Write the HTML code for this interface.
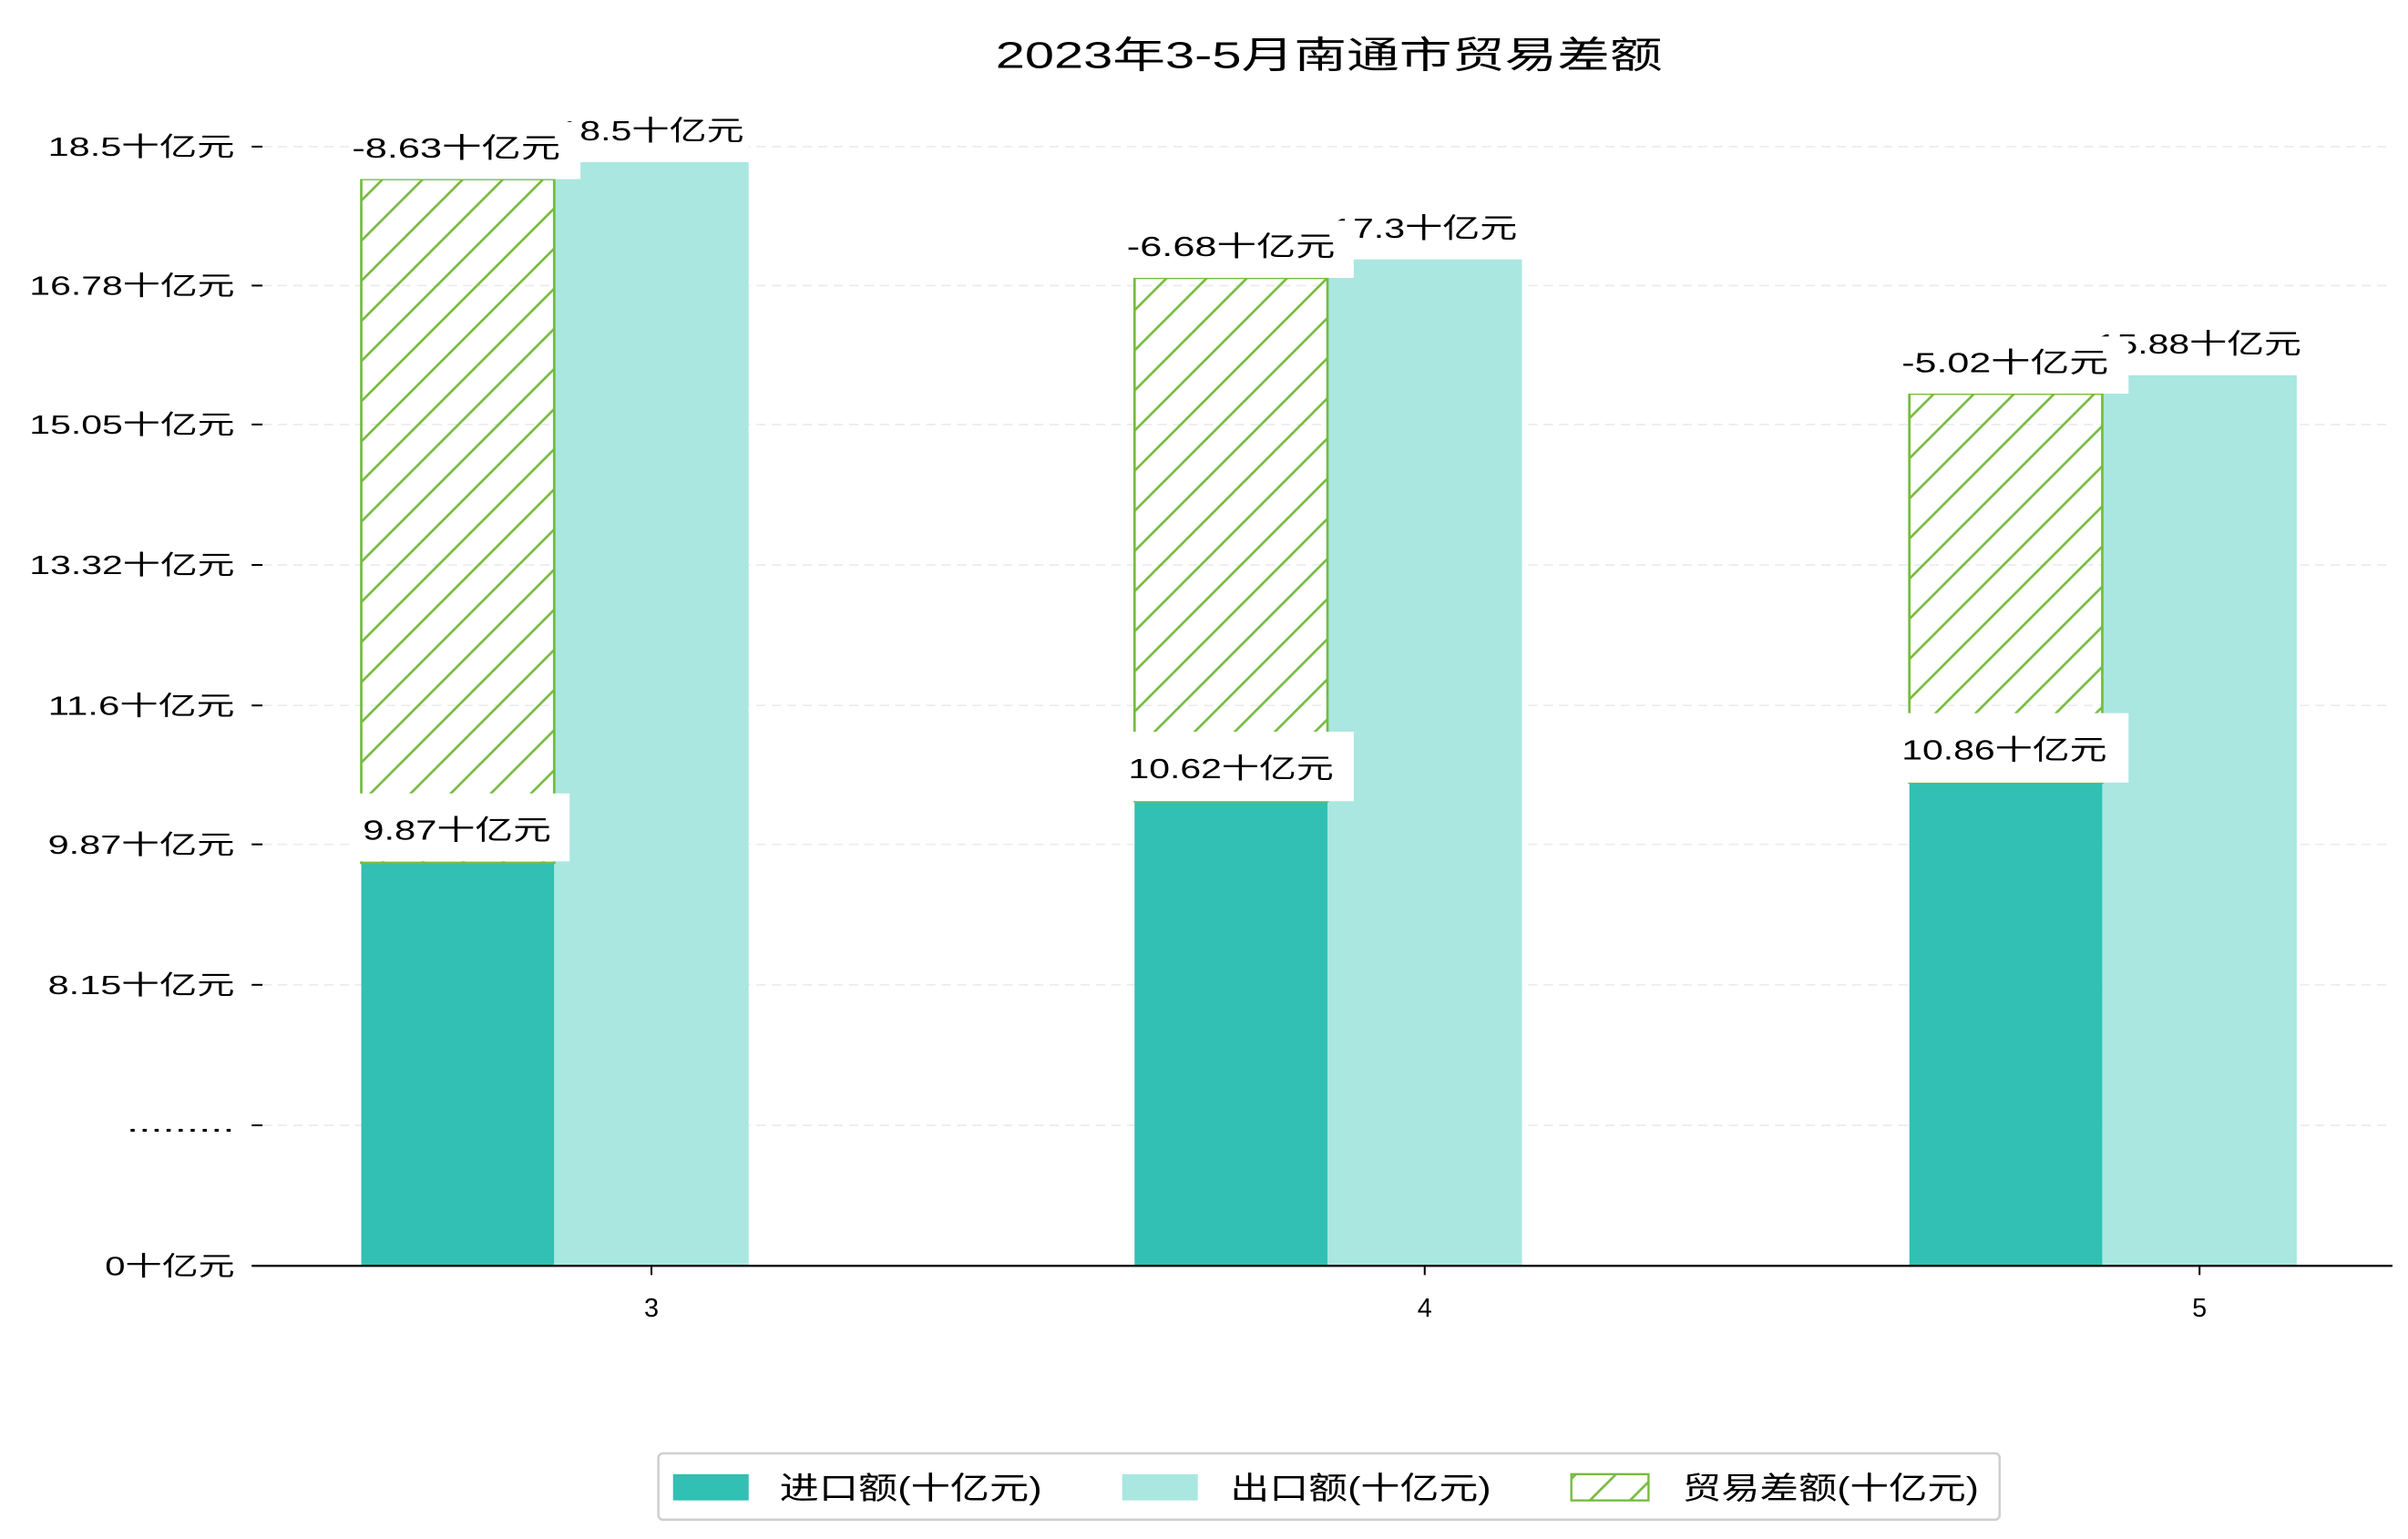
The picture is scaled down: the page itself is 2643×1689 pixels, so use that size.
<!DOCTYPE html>
<html><head><meta charset="utf-8"><style>
html,body{margin:0;padding:0;background:#fff;}
svg{display:block;}
text{font-family:"Liberation Sans","Noto Sans CJK SC","WenQuanYi Zen Hei",sans-serif;fill:#000;}
</style></head><body>
<svg width="2643" height="1689" viewBox="0 0 1560 997" xmlns="http://www.w3.org/2000/svg">
<defs>
<pattern id="h" patternUnits="userSpaceOnUse" width="26" height="26">
<path d="M-2,28 L28,-2 M-15,15 L15,-15 M11,41 L41,11" stroke="#76bb40" stroke-width="1.6"/>
</pattern>
</defs>
<rect width="1560" height="997" fill="#fff"/>
<text x="645" y="44" font-size="24" textLength="432" lengthAdjust="spacingAndGlyphs">2023年3-5月南通市贸易差额</text>
<g stroke="#ececec" stroke-width="1" stroke-dasharray="6,4">
<line x1="170" x2="1550" y1="95" y2="95"/><line x1="170" x2="1550" y1="185" y2="185"/>
<line x1="170" x2="1550" y1="275" y2="275"/><line x1="170" x2="1550" y1="366" y2="366"/>
<line x1="170" x2="1550" y1="457" y2="457"/><line x1="170" x2="1550" y1="547" y2="547"/>
<line x1="170" x2="1550" y1="638" y2="638"/><line x1="170" x2="1550" y1="729" y2="729"/>
</g>
<g stroke="#000" stroke-width="1.2">
<line x1="163" x2="170" y1="95" y2="95"/><line x1="163" x2="170" y1="185" y2="185"/>
<line x1="163" x2="170" y1="275" y2="275"/><line x1="163" x2="170" y1="366" y2="366"/>
<line x1="163" x2="170" y1="457" y2="457"/><line x1="163" x2="170" y1="547" y2="547"/>
<line x1="163" x2="170" y1="638" y2="638"/><line x1="163" x2="170" y1="729" y2="729"/>
<line x1="422" x2="422" y1="820" y2="826"/><line x1="923" x2="923" y1="820" y2="826"/><line x1="1425" x2="1425" y1="820" y2="826"/>
</g>
<g font-size="17" lengthAdjust="spacingAndGlyphs">
<text x="31" y="101" textLength="121" lengthAdjust="spacingAndGlyphs">18.5十亿元</text>
<text x="19" y="191" textLength="133" lengthAdjust="spacingAndGlyphs">16.78十亿元</text>
<text x="19" y="281" textLength="133" lengthAdjust="spacingAndGlyphs">15.05十亿元</text>
<text x="19" y="372" textLength="133" lengthAdjust="spacingAndGlyphs">13.32十亿元</text>
<text x="31" y="463" textLength="121" lengthAdjust="spacingAndGlyphs">11.6十亿元</text>
<text x="31" y="553" textLength="121" lengthAdjust="spacingAndGlyphs">9.87十亿元</text>
<text x="31" y="644" textLength="121" lengthAdjust="spacingAndGlyphs">8.15十亿元</text>
<text x="82" y="733" textLength="70" lengthAdjust="spacingAndGlyphs">.........</text>
<text x="68" y="826" textLength="84" lengthAdjust="spacingAndGlyphs">0十亿元</text>
</g>
<g font-size="17" text-anchor="middle">
<text x="422" y="853">3</text><text x="923" y="853">4</text><text x="1425" y="853">5</text>
</g>
<rect x="234" y="559" width="125" height="261" fill="#31c0b3"/>
<rect x="359" y="105" width="126" height="715" fill="#aae7e1"/>
<rect x="735" y="519" width="125" height="301" fill="#31c0b3"/>
<rect x="860" y="168" width="126" height="652" fill="#aae7e1"/>
<rect x="1237" y="507" width="125" height="313" fill="#31c0b3"/>
<rect x="1362" y="243" width="126" height="577" fill="#aae7e1"/>
<g stroke="#76bb40" stroke-width="1.6">
<rect x="234" y="116" width="125" height="443" fill="url(#h)"/>
<rect x="735" y="180" width="125" height="339" fill="url(#h)"/>
<rect x="1237" y="255" width="125" height="252" fill="url(#h)"/>
</g>
<line x1="163" x2="1550" y1="820" y2="820" stroke="#000" stroke-width="1.4"/>
<g font-size="18">
<rect x="360" y="68" width="125" height="37" fill="#fff"/><text x="362" y="91" textLength="120" lengthAdjust="spacingAndGlyphs">18.5十亿元</text>
<rect x="226" y="79" width="150" height="37" fill="#fff"/><text x="228" y="102" textLength="135" lengthAdjust="spacingAndGlyphs">-8.63十亿元</text>
<rect x="228" y="514" width="141" height="44" fill="#fff"/><text x="235" y="544" textLength="122" lengthAdjust="spacingAndGlyphs">9.87十亿元</text>

<rect x="861" y="131" width="125" height="37" fill="#fff"/><text x="863" y="154" textLength="120" lengthAdjust="spacingAndGlyphs">17.3十亿元</text>
<rect x="727" y="143" width="150" height="37" fill="#fff"/><text x="730" y="166" textLength="135" lengthAdjust="spacingAndGlyphs">-6.68十亿元</text>
<rect x="727" y="474" width="150" height="45" fill="#fff"/><text x="731" y="504" textLength="133" lengthAdjust="spacingAndGlyphs">10.62十亿元</text>

<rect x="1363" y="206" width="125" height="37" fill="#fff"/><text x="1358" y="229" textLength="133" lengthAdjust="spacingAndGlyphs">15.88十亿元</text>
<rect x="1229" y="218" width="150" height="37" fill="#fff"/><text x="1232" y="241" textLength="134" lengthAdjust="spacingAndGlyphs">-5.02十亿元</text>
<rect x="1229" y="462" width="150" height="45" fill="#fff"/><text x="1232" y="492" textLength="133" lengthAdjust="spacingAndGlyphs">10.86十亿元</text>
</g>
<rect x="426.5" y="941.5" width="869" height="43" rx="3" fill="#fff" stroke="#cfcfcf" stroke-width="1.5"/>
<rect x="436" y="955" width="49" height="17" fill="#31c0b3"/>
<rect x="727" y="955" width="49" height="17" fill="#aae7e1"/>
<rect x="1018" y="955" width="50" height="17" fill="url(#h)" stroke="#76bb40" stroke-width="1.4"/>
<g font-size="20">
<text x="505" y="971" textLength="170" lengthAdjust="spacingAndGlyphs">进口额(十亿元)</text>
<text x="797" y="971" textLength="169" lengthAdjust="spacingAndGlyphs">出口额(十亿元)</text>
<text x="1090" y="971" textLength="192" lengthAdjust="spacingAndGlyphs">贸易差额(十亿元)</text>
</g>
</svg>
</body></html>
